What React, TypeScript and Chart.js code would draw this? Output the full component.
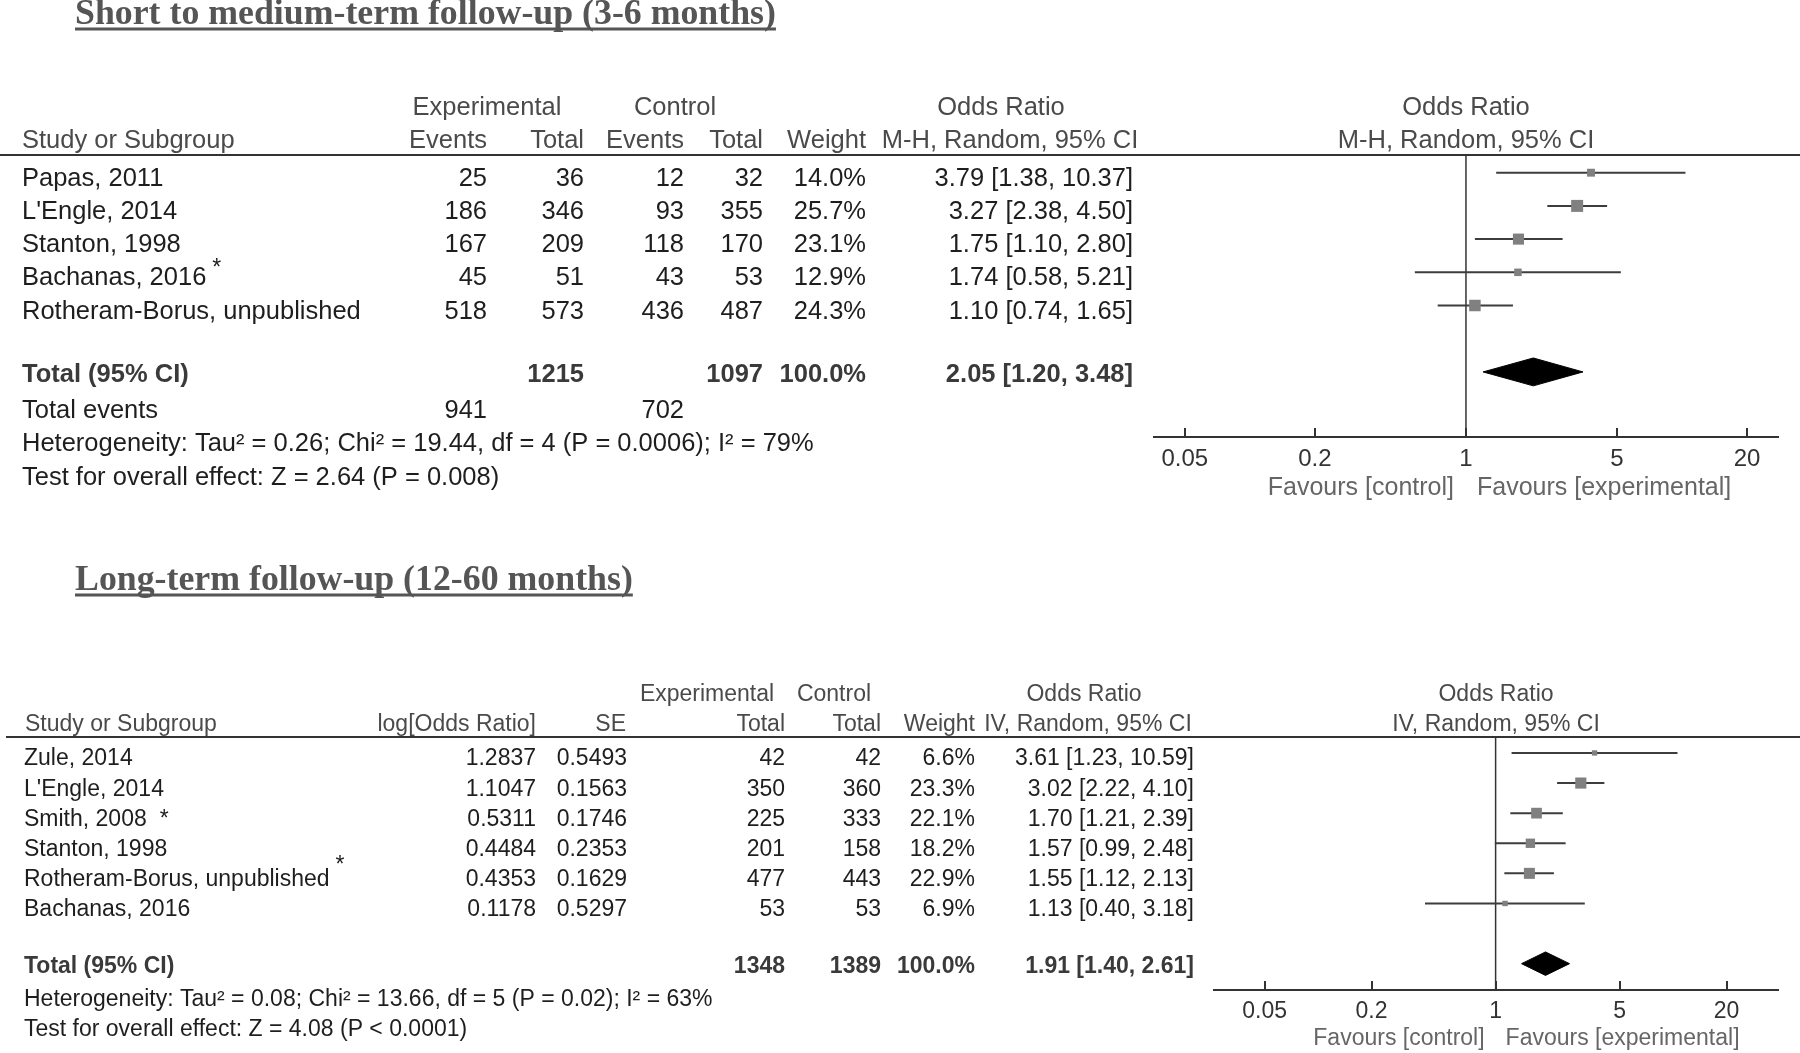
import React, { useEffect, useRef } from 'react';
import { Chart, registerables } from 'chart.js';

Chart.register(...registerables);

// ---------------- Data: short to medium-term follow-up (3-6 months) ----------------
const SHORT_TITLE = 'Short to medium-term follow-up (3-6 months)';
const SHORT_STUDIES = ['Papas, 2011', "L'Engle, 2014", 'Stanton, 1998', 'Bachanas, 2016', 'Rotheram-Borus, unpublished'];
const SHORT_NOTES = ['', '', '', 'sup', ''];
const SHORT_EXP_EVENTS = [25, 186, 167, 45, 518];
const SHORT_EXP_TOTAL = [36, 346, 209, 51, 573];
const SHORT_CTRL_EVENTS = [12, 93, 118, 43, 436];
const SHORT_CTRL_TOTAL = [32, 355, 170, 53, 487];
const SHORT_WEIGHT = [14.0, 25.7, 23.1, 12.9, 24.3];
const SHORT_OR = [3.79, 3.27, 1.75, 1.74, 1.1];
const SHORT_LOW = [1.38, 2.38, 1.1, 0.58, 0.74];
const SHORT_HIGH = [10.37, 4.5, 2.8, 5.21, 1.65];
const SHORT_TOTALS = [1215, 1097];
const SHORT_TOTAL_EVENTS = [941, 702];
const SHORT_POOLED = [2.05, 1.2, 3.48]; // OR, low, high
const SHORT_HET = 'Heterogeneity: Tau\u00B2 = 0.26; Chi\u00B2 = 19.44, df = 4 (P = 0.0006); I\u00B2 = 79%';
const SHORT_TEST = 'Test for overall effect: Z = 2.64 (P = 0.008)';

// ---------------- Data: long-term follow-up (12-60 months) ----------------
const LONG_TITLE = 'Long-term follow-up (12-60 months)';
const LONG_STUDIES = ['Zule, 2014', "L'Engle, 2014", 'Smith, 2008', 'Stanton, 1998', 'Rotheram-Borus, unpublished', 'Bachanas, 2016'];
const LONG_NOTES = ['', '', 'inline', '', 'sup', ''];
const LONG_LOG_OR = [1.2837, 1.1047, 0.5311, 0.4484, 0.4353, 0.1178];
const LONG_SE = [0.5493, 0.1563, 0.1746, 0.2353, 0.1629, 0.5297];
const LONG_EXP_TOTAL = [42, 350, 225, 201, 477, 53];
const LONG_CTRL_TOTAL = [42, 360, 333, 158, 443, 53];
const LONG_WEIGHT = [6.6, 23.3, 22.1, 18.2, 22.9, 6.9];
const LONG_OR = [3.61, 3.02, 1.7, 1.57, 1.55, 1.13];
const LONG_LOW = [1.23, 2.22, 1.21, 0.99, 1.12, 0.4];
const LONG_HIGH = [10.59, 4.1, 2.39, 2.48, 2.13, 3.18];
const LONG_TOTALS = [1348, 1389];
const LONG_POOLED = [1.91, 1.4, 2.61];
const LONG_HET = 'Heterogeneity: Tau\u00B2 = 0.08; Chi\u00B2 = 13.66, df = 5 (P = 0.02); I\u00B2 = 63%';
const LONG_TEST = 'Test for overall effect: Z = 4.08 (P < 0.0001)';

const TICK_VALUES = [0.05, 0.2, 1, 5, 20];
const TICK_LABELS = ['0.05', '0.2', '1', '5', '20'];

// ---------------- Styles ----------------
const W = 1800;
const H = 1053;
const SANS = '"Liberation Sans", Arial, sans-serif';
const SERIF = '"Liberation Serif", "Times New Roman", serif';
const HEAD_COLOR = '#4a4a4a';
const ROW_COLOR = '#1e1e1e';
const TOTAL_COLOR = '#3a3a3a';
const LINE_COLOR = '#333333';

const f2 = (v: number) => v.toFixed(2);
const orText = (o: number, l: number, h: number) => `${f2(o)} [${f2(l)}, ${f2(h)}]`;
const pct = (w: number) => `${w.toFixed(1)}%`;

function put(ctx: CanvasRenderingContext2D, s: string, x: number, y: number, font: string, color: string, align: CanvasTextAlign = 'left') {
  ctx.font = font;
  ctx.fillStyle = color;
  ctx.textAlign = align;
  ctx.textBaseline = 'alphabetic';
  ctx.fillText(s, x, y);
}

function title(ctx: CanvasRenderingContext2D, s: string, x: number, baseline: number, underlineY: number) {
  const font = `bold 35.8px ${SERIF}`;
  put(ctx, s, x, baseline, font, '#555555');
  ctx.font = font;
  const w = ctx.measureText(s).width;
  ctx.fillStyle = '#555555';
  ctx.fillRect(x, underlineY - 1.5, w, 3);
}

function hline(ctx: CanvasRenderingContext2D, x1: number, x2: number, y: number, width = 2) {
  ctx.beginPath();
  ctx.strokeStyle = LINE_COLOR;
  ctx.lineWidth = width;
  ctx.moveTo(x1, y);
  ctx.lineTo(x2, y);
  ctx.stroke();
}

function note(ctx: CanvasRenderingContext2D, kind: string, name: string, x: number, baseline: number, size: number, supLift: number) {
  if (!kind) return;
  ctx.font = `${size}px ${SANS}`;
  const w = ctx.measureText(name).width;
  if (kind === 'sup') {
    put(ctx, '*', x + w + 6, baseline - supLift, `23px ${SANS}`, ROW_COLOR);
  } else {
    put(ctx, '*', x + w + 13, baseline, `${size}px ${SANS}`, ROW_COLOR);
  }
}

type PanelSpec = {
  or: number[];
  low: number[];
  high: number[];
  weight: number[];
  pooled: number[];
  pooledRow: number;
  diamondHalf: number;
  xMin: number;
  xMax: number;
  yMin: number;
  yMax: number;
  top: number;
  bottom: number;
  left: number;
  right: number;
  tickSize: number;
  tickPad: number;
  text: (chart: any) => void;
};

function squareSide(w: number) {
  return 3 + 0.35 * w;
}

function buildConfig(p: PanelSpec): any {
  const datasets: any[] = [];
  datasets.push({
    label: 'estimates',
    data: p.or.map((v, i) => ({ x: v, y: i })),
    showLine: false,
    pointStyle: 'rect',
    pointRadius: (c: any) => squareSide(p.weight[c.dataIndex] ?? 10) / Math.SQRT2,
    pointBackgroundColor: '#808080',
    pointBorderWidth: 0,
    pointBorderColor: '#808080',
    order: 0,
  });
  p.low.forEach((lo, i) => {
    datasets.push({
      label: `ci${i}`,
      data: [
        { x: lo, y: i },
        { x: p.high[i], y: i },
      ],
      showLine: true,
      borderColor: '#3d3d3d',
      borderWidth: 2,
      pointRadius: 0,
      order: 1,
    });
  });
  const [po, pl, ph] = p.pooled;
  const r = p.pooledRow;
  const d = p.diamondHalf;
  datasets.push({
    label: 'pooled',
    data: [
      { x: pl, y: r },
      { x: po, y: r - d },
      { x: ph, y: r },
      { x: po, y: r + d },
      { x: pl, y: r },
    ],
    showLine: true,
    fill: 'shape',
    backgroundColor: '#000000',
    borderColor: '#000000',
    borderWidth: 1,
    pointRadius: 0,
    tension: 0,
    order: 0,
  });

  const panelPlugin = {
    id: 'panelText',
    beforeDatasetsDraw(chart: any) {
      const ctx = chart.ctx as CanvasRenderingContext2D;
      const xs = chart.scales.x;
      const ca = chart.chartArea;
      const x1 = xs.getPixelForValue(1);
      ctx.save();
      ctx.beginPath();
      ctx.strokeStyle = LINE_COLOR;
      ctx.lineWidth = 1.5;
      ctx.moveTo(x1, ca.top);
      ctx.lineTo(x1, ca.bottom);
      ctx.stroke();
      ctx.restore();
    },
    afterDraw(chart: any) {
      const ctx = chart.ctx as CanvasRenderingContext2D;
      const xs = chart.scales.x;
      const ca = chart.chartArea;
      ctx.save();
      // tick marks pointing up from the axis
      ctx.beginPath();
      ctx.strokeStyle = LINE_COLOR;
      ctx.lineWidth = 2;
      TICK_VALUES.forEach((v) => {
        const x = Math.round(xs.getPixelForValue(v));
        ctx.moveTo(x, ca.bottom - 9);
        ctx.lineTo(x, ca.bottom);
      });
      ctx.stroke();
      p.text(chart);
      ctx.restore();
    },
  };

  return {
    type: 'scatter',
    data: { datasets },
    options: {
      animation: false,
      responsive: false,
      devicePixelRatio: 1,
      events: [],
      layout: { padding: { left: p.left, right: W - p.right, top: p.top, bottom: H - p.bottom - 40 } },
      plugins: { legend: { display: false }, tooltip: { enabled: false }, title: { display: false } },
      scales: {
        x: {
          type: 'logarithmic',
          position: 'bottom',
          min: p.xMin,
          max: p.xMax,
          grid: { display: false, drawTicks: false, tickLength: 0 },
          border: { display: true, color: LINE_COLOR, width: 2 },
          afterBuildTicks: (s: any) => {
            s.ticks = TICK_VALUES.map((v) => ({ value: v }));
          },
          afterFit: (s: any) => {
            s.height = 40;
          },
          ticks: {
            autoSkip: false,
            maxRotation: 0,
            minRotation: 0,
            padding: p.tickPad,
            color: '#333333',
            font: { family: SANS, size: p.tickSize },
            callback: (_v: any, i: number) => TICK_LABELS[i],
          },
        },
        y: {
          type: 'linear',
          reverse: true,
          min: p.yMin,
          max: p.yMax,
          display: false,
        },
      },
    },
    plugins: [panelPlugin],
  };
}

// ---------------- Panel text layouts ----------------
function shortText(chart: any) {
  const ctx = chart.ctx as CanvasRenderingContext2D;
  const xs = chart.scales.x;
  const ys = chart.scales.y;
  const ca = chart.chartArea;
  const F = `25.5px ${SANS}`;
  const FB = `bold 25.5px ${SANS}`;
  title(ctx, SHORT_TITLE, 75, 24, 29);
  hline(ctx, 0, W, ca.top);
  const plotMid = (ca.left + ca.right) / 2;
  // header
  put(ctx, 'Experimental', 487, 115, F, HEAD_COLOR, 'center');
  put(ctx, 'Control', 675, 115, F, HEAD_COLOR, 'center');
  put(ctx, 'Odds Ratio', 1001, 115, F, HEAD_COLOR, 'center');
  put(ctx, 'Odds Ratio', plotMid, 115, F, HEAD_COLOR, 'center');
  put(ctx, 'Study or Subgroup', 22, 148, F, HEAD_COLOR);
  put(ctx, 'Events', 487, 148, F, HEAD_COLOR, 'right');
  put(ctx, 'Total', 584, 148, F, HEAD_COLOR, 'right');
  put(ctx, 'Events', 684, 148, F, HEAD_COLOR, 'right');
  put(ctx, 'Total', 763, 148, F, HEAD_COLOR, 'right');
  put(ctx, 'Weight', 866, 148, F, HEAD_COLOR, 'right');
  put(ctx, 'M-H, Random, 95% CI', 1010, 148, F, HEAD_COLOR, 'center');
  put(ctx, 'M-H, Random, 95% CI', plotMid, 148, F, HEAD_COLOR, 'center');
  // rows
  SHORT_STUDIES.forEach((name, i) => {
    const b = ys.getPixelForValue(i) + 13;
    put(ctx, name, 22, b, F, ROW_COLOR);
    note(ctx, SHORT_NOTES[i], name, 22, b, 25.5, 10);
    put(ctx, String(SHORT_EXP_EVENTS[i]), 487, b, F, ROW_COLOR, 'right');
    put(ctx, String(SHORT_EXP_TOTAL[i]), 584, b, F, ROW_COLOR, 'right');
    put(ctx, String(SHORT_CTRL_EVENTS[i]), 684, b, F, ROW_COLOR, 'right');
    put(ctx, String(SHORT_CTRL_TOTAL[i]), 763, b, F, ROW_COLOR, 'right');
    put(ctx, pct(SHORT_WEIGHT[i]), 866, b, F, ROW_COLOR, 'right');
    put(ctx, orText(SHORT_OR[i], SHORT_LOW[i], SHORT_HIGH[i]), 1133, b, F, ROW_COLOR, 'right');
  });
  const bt = ys.getPixelForValue(6) + 10;
  put(ctx, 'Total (95% CI)', 22, bt, FB, TOTAL_COLOR);
  put(ctx, String(SHORT_TOTALS[0]), 584, bt, FB, TOTAL_COLOR, 'right');
  put(ctx, String(SHORT_TOTALS[1]), 763, bt, FB, TOTAL_COLOR, 'right');
  put(ctx, '100.0%', 866, bt, FB, TOTAL_COLOR, 'right');
  put(ctx, orText(SHORT_POOLED[0], SHORT_POOLED[1], SHORT_POOLED[2]), 1133, bt, FB, TOTAL_COLOR, 'right');
  const be = ys.getPixelForValue(7) + 13;
  put(ctx, 'Total events', 22, be, F, ROW_COLOR);
  put(ctx, String(SHORT_TOTAL_EVENTS[0]), 487, be, F, ROW_COLOR, 'right');
  put(ctx, String(SHORT_TOTAL_EVENTS[1]), 684, be, F, ROW_COLOR, 'right');
  put(ctx, SHORT_HET, 22, ys.getPixelForValue(8) + 13, F, ROW_COLOR);
  put(ctx, SHORT_TEST, 22, ys.getPixelForValue(9) + 13, F, ROW_COLOR);
  // favours
  const x1 = xs.getPixelForValue(1);
  put(ctx, 'Favours [control]', x1 - 12, 495, `25px ${SANS}`, '#666666', 'right');
  put(ctx, 'Favours [experimental]', x1 + 11, 495, `25px ${SANS}`, '#666666', 'left');
}

function longText(chart: any) {
  const ctx = chart.ctx as CanvasRenderingContext2D;
  const xs = chart.scales.x;
  const ys = chart.scales.y;
  const ca = chart.chartArea;
  const F = `23px ${SANS}`;
  const FB = `bold 23px ${SANS}`;
  title(ctx, LONG_TITLE, 75, 590, 595);
  hline(ctx, 6, W, ca.top);
  const plotMid = (ca.left + ca.right) / 2;
  put(ctx, 'Experimental', 707, 701, F, HEAD_COLOR, 'center');
  put(ctx, 'Control', 834, 701, F, HEAD_COLOR, 'center');
  put(ctx, 'Odds Ratio', 1084, 701, F, HEAD_COLOR, 'center');
  put(ctx, 'Odds Ratio', plotMid, 701, F, HEAD_COLOR, 'center');
  put(ctx, 'Study or Subgroup', 25, 731, F, HEAD_COLOR);
  put(ctx, 'log[Odds Ratio]', 536, 731, F, HEAD_COLOR, 'right');
  put(ctx, 'SE', 626, 731, F, HEAD_COLOR, 'right');
  put(ctx, 'Total', 785, 731, F, HEAD_COLOR, 'right');
  put(ctx, 'Total', 881, 731, F, HEAD_COLOR, 'right');
  put(ctx, 'Weight', 975, 731, F, HEAD_COLOR, 'right');
  put(ctx, 'IV, Random, 95% CI', 1088, 731, F, HEAD_COLOR, 'center');
  put(ctx, 'IV, Random, 95% CI', plotMid, 731, F, HEAD_COLOR, 'center');
  LONG_STUDIES.forEach((name, i) => {
    const b = ys.getPixelForValue(i) + 12.5;
    put(ctx, name, 24, b, F, ROW_COLOR);
    note(ctx, LONG_NOTES[i], name, 24, b, 23, 14);
    put(ctx, LONG_LOG_OR[i].toFixed(4), 536, b, F, ROW_COLOR, 'right');
    put(ctx, LONG_SE[i].toFixed(4), 627, b, F, ROW_COLOR, 'right');
    put(ctx, String(LONG_EXP_TOTAL[i]), 785, b, F, ROW_COLOR, 'right');
    put(ctx, String(LONG_CTRL_TOTAL[i]), 881, b, F, ROW_COLOR, 'right');
    put(ctx, pct(LONG_WEIGHT[i]), 975, b, F, ROW_COLOR, 'right');
    put(ctx, orText(LONG_OR[i], LONG_LOW[i], LONG_HIGH[i]), 1194, b, F, ROW_COLOR, 'right');
  });
  const bt = ys.getPixelForValue(7) + 9;
  put(ctx, 'Total (95% CI)', 24, bt, FB, TOTAL_COLOR);
  put(ctx, String(LONG_TOTALS[0]), 785, bt, FB, TOTAL_COLOR, 'right');
  put(ctx, String(LONG_TOTALS[1]), 881, bt, FB, TOTAL_COLOR, 'right');
  put(ctx, '100.0%', 975, bt, FB, TOTAL_COLOR, 'right');
  put(ctx, orText(LONG_POOLED[0], LONG_POOLED[1], LONG_POOLED[2]), 1194, bt, FB, TOTAL_COLOR, 'right');
  put(ctx, LONG_HET, 24, ys.getPixelForValue(8) + 12.5, F, ROW_COLOR);
  put(ctx, LONG_TEST, 24, ys.getPixelForValue(9) + 12.5, F, ROW_COLOR);
  const x1 = xs.getPixelForValue(1);
  put(ctx, 'Favours [control]', x1 - 11, 1045, `23px ${SANS}`, '#666666', 'right');
  put(ctx, 'Favours [experimental]', x1 + 10, 1045, `23px ${SANS}`, '#666666', 'left');
}

const SHORT_PANEL: PanelSpec = {
  or: SHORT_OR,
  low: SHORT_LOW,
  high: SHORT_HIGH,
  weight: SHORT_WEIGHT,
  pooled: SHORT_POOLED,
  pooledRow: 6,
  diamondHalf: 0.42,
  xMin: 0.036,
  xMax: 27.8,
  yMin: -0.533,
  yMax: 7.96,
  top: 155,
  bottom: 437,
  left: 1154,
  right: 1778,
  tickSize: 24,
  tickPad: 8,
  text: shortText,
};

const LONG_PANEL: PanelSpec = {
  or: LONG_OR,
  low: LONG_LOW,
  high: LONG_HIGH,
  weight: LONG_WEIGHT,
  pooled: LONG_POOLED,
  pooledRow: 7,
  diamondHalf: 0.39,
  xMin: 0.0259,
  xMax: 39,
  yMin: -0.53,
  yMax: 7.875,
  top: 737,
  bottom: 990,
  left: 1214,
  right: 1778,
  tickSize: 23,
  tickPad: 7.5,
  text: longText,
};

export default function App() {
  const ref1 = useRef<HTMLCanvasElement>(null);
  const ref2 = useRef<HTMLCanvasElement>(null);
  useEffect(() => {
    document.body.style.margin = '0';
    document.body.style.overflow = 'hidden';
    const c1 = new Chart(ref1.current as HTMLCanvasElement, buildConfig(SHORT_PANEL));
    const c2 = new Chart(ref2.current as HTMLCanvasElement, buildConfig(LONG_PANEL));
    return () => {
      c1.destroy();
      c2.destroy();
    };
  }, []);
  const cs: React.CSSProperties = { position: 'absolute', left: 0, top: 0, width: W, height: H };
  return (
    <div style={{ position: 'absolute', left: 0, top: 0, width: W, height: H, background: '#ffffff', overflow: 'hidden' }}>
      <canvas ref={ref1} width={W} height={H} style={cs} />
      <canvas ref={ref2} width={W} height={H} style={cs} />
    </div>
  );
}
